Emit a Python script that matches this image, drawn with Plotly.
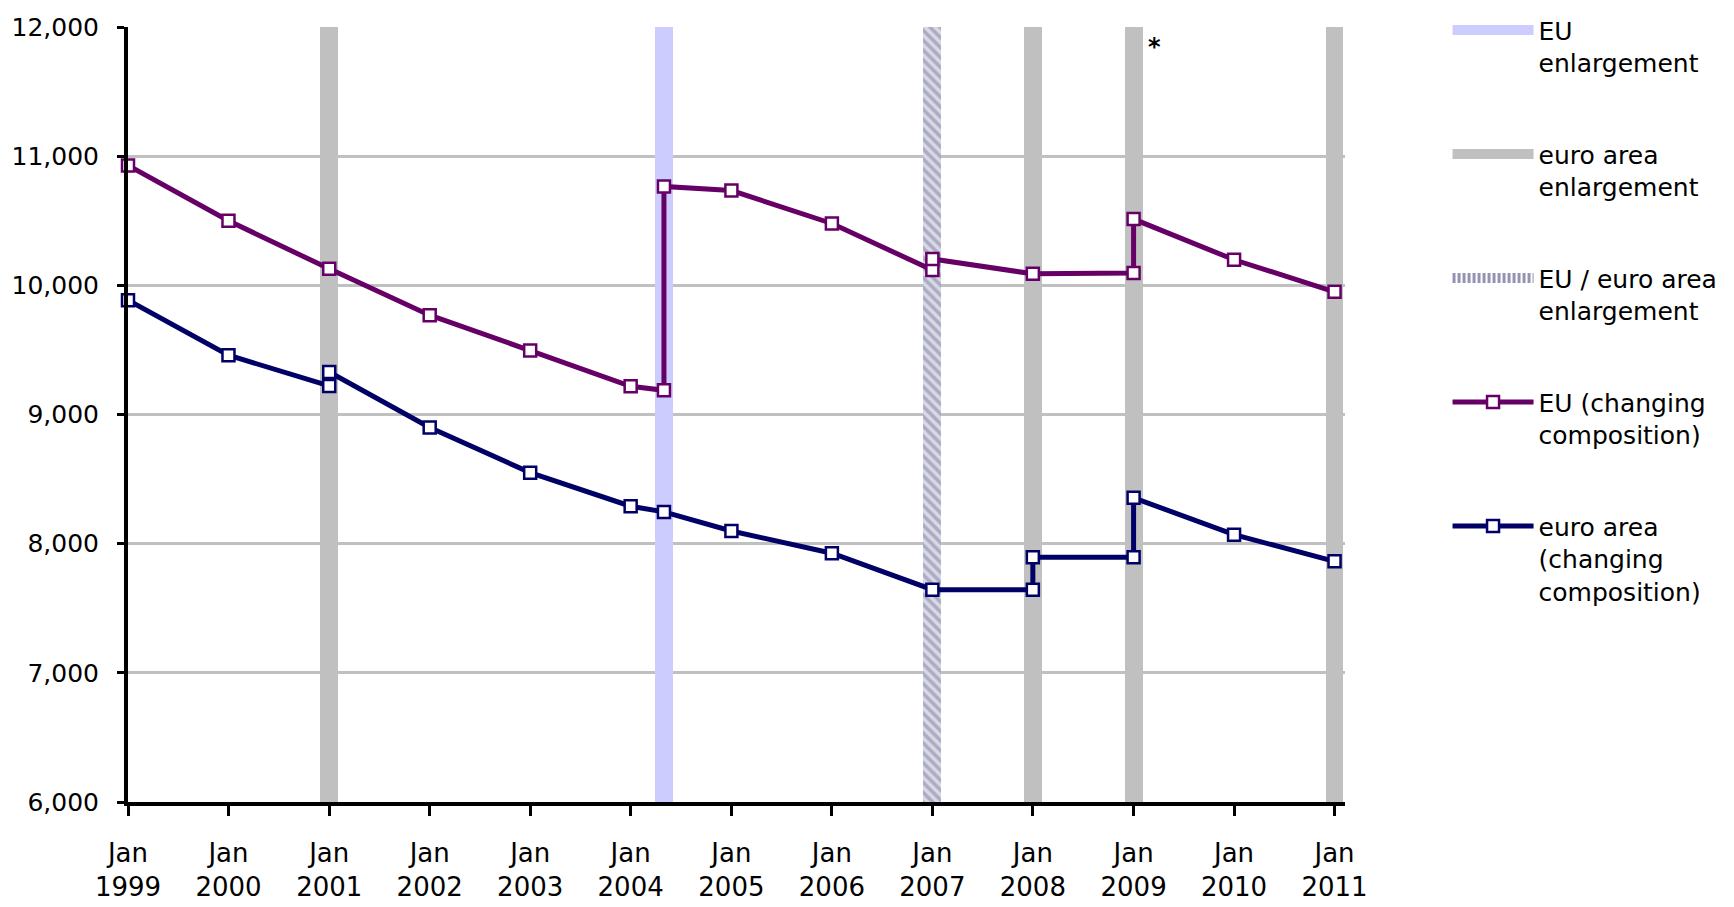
import plotly.graph_objects as go

# ---- data ----
eu_dates = ["1999-01-01", "2000-01-01", "2001-01-01", "2002-01-01", "2003-01-01",
            "2004-01-01", "2004-05-01", "2004-05-01", "2005-01-01", "2006-01-01",
            "2007-01-01", "2007-01-01", "2008-01-01", "2009-01-01", "2009-01-01",
            "2010-01-01", "2011-01-01"]
eu_values = [10928, 10500, 10128, 9769, 9495,
             9218, 9187, 10766, 10734, 10479,
             10118, 10204, 10089, 10095, 10513,
             10198, 9950]

ea_dates = ["1999-01-01", "2000-01-01", "2001-01-01", "2001-01-01", "2002-01-01",
            "2003-01-01", "2004-01-01", "2004-05-01", "2005-01-01", "2006-01-01",
            "2007-01-01", "2008-01-01", "2008-01-01", "2009-01-01", "2009-01-01",
            "2010-01-01", "2011-01-01"]
ea_values = [9885, 9459, 9221, 9329, 8900,
             8550, 8290, 8246, 8098, 7926,
             7644, 7644, 7894, 7894, 8355,
             8070, 7863]

eu_enlarge_dates = ["2004-05-01"]
ea_enlarge_dates = ["2001-01-01", "2008-01-01", "2009-01-01", "2011-01-01"]
both_enlarge_dates = ["2007-01-01"]
bar_top = 12000

tick_dates = ["%d-01-01" % y for y in range(1999, 2012)]
tick_text = ["Jan<br>%d" % y for y in range(1999, 2012)]

note_date = "2009-03-18"
note_value = 11842
note_text = "<b>*</b>"

# ---- figure ----
FONT = "DejaVu Sans"
bar_w = 65 * 86400000
C_EU_ENL = "#CCCCFF"
C_EA_ENL = "#C0C0C0"

fig = go.Figure()
# enlargement bars (legend drawn by the legend-only entries below)
fig.add_trace(go.Bar(
    x=eu_enlarge_dates, y=[bar_top] * len(eu_enlarge_dates), width=bar_w,
    marker=dict(color=C_EU_ENL, line=dict(width=0)), showlegend=False,
    hoverinfo="skip"))
fig.add_trace(go.Bar(
    x=ea_enlarge_dates, y=[bar_top] * len(ea_enlarge_dates), width=bar_w,
    marker=dict(color=C_EA_ENL, line=dict(width=0)), showlegend=False,
    hoverinfo="skip"))
fig.add_trace(go.Bar(
    x=both_enlarge_dates, y=[bar_top] * len(both_enlarge_dates), width=bar_w,
    marker=dict(color="#D8D8E6", line=dict(width=0),
                pattern=dict(shape="\\", fgcolor="#7E7E9E", bgcolor="#D8D8E6",
                             size=7, solidity=0.5)),
    showlegend=False, hoverinfo="skip"))

# legend entries for the bars (wide flat swatches as in the original)
fig.add_trace(go.Scatter(x=[None], y=[None], mode="lines", name="EU<br>enlargement",
                         line=dict(color=C_EU_ENL, width=13), legendgroup="a"))
fig.add_trace(go.Scatter(x=[None], y=[None], mode="lines", name="euro area<br>enlargement",
                         line=dict(color=C_EA_ENL, width=13), legendgroup="b"))
fig.add_trace(go.Scatter(x=[None], y=[None], mode="lines",
                         name="EU / euro area<br>enlargement",
                         line=dict(color="#9494B2", width=13, dash="3px,2px"),
                         legendgroup="c"))

fig.add_trace(go.Scatter(
    x=eu_dates, y=eu_values, mode="lines+markers", name="EU (changing<br>composition)",
    line=dict(color="#660066", width=5),
    marker=dict(symbol="square", size=12, color="white",
                line=dict(color="#660066", width=2.5)),
    cliponaxis=False, legendgroup="d"))
fig.add_trace(go.Scatter(
    x=ea_dates, y=ea_values, mode="lines+markers",
    name="euro area<br>(changing<br>composition)",
    line=dict(color="#000066", width=5),
    marker=dict(symbol="square", size=12, color="white",
                line=dict(color="#000066", width=2.5)),
    cliponaxis=False, legendgroup="e"))

fig.add_annotation(x=note_date, y=note_value, text=note_text, showarrow=False,
                   font=dict(family=FONT, size=24, color="black"))

fig.update_layout(
    width=1734, height=907,
    margin=dict(l=128, r=389, t=27, b=105),
    paper_bgcolor="white", plot_bgcolor="white",
    barmode="overlay", bargap=0,
    font=dict(family=FONT, color="black", size=24),
    showlegend=True,
    legend=dict(xref="container", yref="container", x=0.8348, y=0.992,
                xanchor="left", yanchor="top",
                font=dict(family=FONT, size=25, color="black"),
                traceorder="grouped", tracegroupgap=56, valign="top",
                itemwidth=81, bgcolor="rgba(0,0,0,0)", maxheight=880),
)
fig.update_xaxes(
    type="date", range=["1999-01-01", "2011-02-08"],
    tickmode="array", tickvals=tick_dates, ticktext=tick_text,
    ticks="outside", ticklen=10, tickwidth=3, tickcolor="black",
    showline=True, linecolor="black", linewidth=4,
    showgrid=False, zeroline=False, automargin=False,
    tickfont=dict(family=FONT, size=26, color="black"),
    ticklabelstandoff=15,
)
fig.update_yaxes(
    range=[6000, 12000], dtick=1000, tickformat=",",
    ticks="outside", ticklen=7, tickwidth=3, tickcolor="black",
    showline=True, linecolor="black", linewidth=4,
    showgrid=True, gridcolor="#C0C0C0", gridwidth=2.5, zeroline=False,
    automargin=False,
    tickfont=dict(family=FONT, size=25, color="black"),
    ticklabelstandoff=13,
)

fig.write_html("out.html",
               config={"displayModeBar": False},
               post_script="document.body.style.margin='0px';"
                           "document.body.style.overflow='hidden';")
